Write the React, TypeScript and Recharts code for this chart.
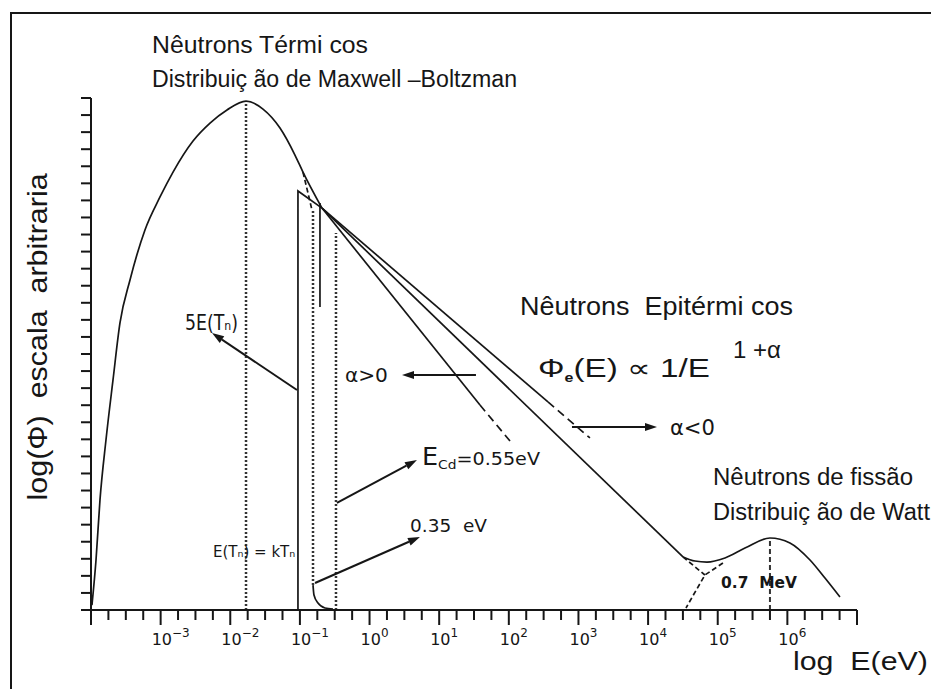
import React from "react";
import { ComposedChart, Line, XAxis, YAxis, ReferenceLine, ReferenceDot } from "recharts";

// x = log10(E/eV), y = log(phi) em escala arbitraria
const maxwellLogE = [-3.986, -3.928, -3.871, -3.785, -3.684, -3.584, -3.44, -3.225, -3.009, -2.822, -2.535, -2.291, -2.047, -1.774, -1.53, -1.286, -1.071, -0.956, -0.683];
const maxwellLogPhi = [0.29, 2.93, 6.45, 9.96, 13.48, 16.82, 19.34, 22.27, 24.2, 25.66, 27.48, 28.53, 29.3, 29.82, 29.35, 28.24, 26.66, 25.66, 23.55];

const maxwellTailLogE = [-0.956, -0.884, -0.827];
const maxwellTailLogPhi = [25.66, 24.43, 23.44];

const epiLogE = [-0.683, 4.501];
const epiLogPhi = [23.55, 3.11];

const fissionLogE = [4.501, 4.673, 4.846, 5.104, 5.391, 5.75, 6.037, 6.325, 6.54, 6.755];
const fissionLogPhi = [3.11, 2.87, 2.81, 3.05, 3.63, 4.22, 3.93, 2.93, 1.87, 0.76];

const alphaPosLogE = [-0.683, 1.586];
const alphaPosLogPhi = [23.55, 12.01];
const alphaPosDashLogE = [1.586, 2.017];
const alphaPosDashLogPhi = [12.01, 9.9];

const alphaNegLogE = [-0.683, 2.562];
const alphaNegLogPhi = [23.55, 12.19];
const alphaNegDashLogE = [2.562, 3.165];
const alphaNegDashLogPhi = [12.19, 10.08];

// degrau em 5E(Tn)
const stepLogE = [-1.028, -1.028, -0.683];
const stepLogPhi = [0, 24.55, 23.55];
const shortBarLogE = [-0.712, -0.712];
const shortBarLogPhi = [17.75, 23.85];

// corte do cadmio
const cdCurveLogE = [-0.812, -0.798, -0.741, -0.64, -0.525];
const cdCurveLogPhi = [1.46, 0.88, 0.41, 0.12, 0.06];
const cdLine1LogE = [-0.812, -0.812];
const cdLine1LogPhi = [1.46, 23.44];
const cdLine2LogE = [-0.482, -0.482];
const cdLine2LogPhi = [0, 22.09];

const peakLineLogE = [-1.774, -1.774];
const peakLineLogPhi = [0, 29.82];
const mevLineLogE = [5.75, 5.75];
const mevLineLogPhi = [0, 4.22];

const joinDashLogE = [4.501, 4.816];
const joinDashLogPhi = [3.11, 2.05];
const fissionDashLogE = [5.075, 4.816, 4.544];
const fissionDashLogPhi = [2.75, 2.05, 0.12];

const xTicks = Array.from({ length: 45 }, (_, i) => -4 + i * 0.25);
const xLabelExps = [-3, -2, -1, 0, 1, 2, 3, 4, 5, 6];
const yTicks = Array.from({ length: 31 }, (_, i) => i);

const INK = "#161616";
const SANS = "'Liberation Sans', Arial, sans-serif";
const PLOT = "'DejaVu Sans', sans-serif";

const zip = (xs: number[], ys: number[]) => xs.map((x, i) => ({ x, y: ys[i] }));

function XTick(props: any) {
  const { x, y, payload } = props;
  const v = payload.value as number;
  const major = Math.abs(v - Math.round(v)) < 1e-6;
  const exp = Math.round(v);
  const show = major && xLabelExps.includes(exp);
  return (
    <g>
      <line x1={x} x2={x} y1={y} y2={y + (major ? 15 : 10)} stroke={INK} strokeWidth={2} />
      {show && (
        <text x={x - 9} y={y + 35} fontSize={16} fontFamily={PLOT} fill={INK}>
          10
          <tspan dy={-8} fontSize={12}>
            {exp < 0 ? `−${-exp}` : `${exp}`}
          </tspan>
        </text>
      )}
    </g>
  );
}

function Arrow(props: any) {
  const { x1, y1, x2, y2 } = props;
  const a = Math.atan2(y2 - y1, x2 - x1);
  const L = 12;
  const W = 4;
  const bx = x2 - L * Math.cos(a);
  const by = y2 - L * Math.sin(a);
  const pts = [
    [x2, y2],
    [bx + W * Math.sin(a), by - W * Math.cos(a)],
    [bx - W * Math.sin(a), by + W * Math.cos(a)],
  ]
    .map((p) => p.join(","))
    .join(" ");
  return (
    <g>
      <line x1={x1} y1={y1} x2={bx} y2={by} stroke={INK} strokeWidth={2} />
      <polygon points={pts} fill={INK} />
    </g>
  );
}

const note =
  (content: React.ReactNode, size: number, opts: { len?: number; font?: string; weight?: number; rotate?: boolean } = {}) =>
  (p: any) => (
    <text
      x={p.cx}
      y={p.cy}
      fontSize={size}
      fontFamily={opts.font ?? SANS}
      fontWeight={opts.weight ?? 400}
      fill={INK}
      textAnchor={opts.rotate ? "middle" : "start"}
      transform={opts.rotate ? `rotate(-90 ${p.cx} ${p.cy})` : undefined}
      textLength={opts.len}
      lengthAdjust={opts.len ? "spacingAndGlyphs" : undefined}
      style={{ whiteSpace: "pre" }}
    >
      {content}
    </text>
  );

const solid = { stroke: INK, strokeWidth: 1.7, dot: false, isAnimationActive: false } as const;

export default function App() {
  return (
    <div style={{ position: "absolute", left: 0, top: 0, width: 931, height: 689, overflow: "hidden", background: "#fff" }}>
      <div
        style={{
          position: "absolute",
          left: 10,
          top: 12,
          width: 1000,
          height: 1000,
          borderLeft: `2px solid ${INK}`,
          borderTop: `2px solid ${INK}`,
        }}
      />
      <div style={{ position: "absolute", left: 0, top: 0 }}>
        <ComposedChart width={931} height={689} margin={{ top: 98, right: 74, bottom: 0, left: 71 }}>
          <XAxis
            type="number"
            dataKey="x"
            domain={[-4, 7]}
            ticks={xTicks}
            interval={0}
            height={79}
            tickSize={0}
            tickMargin={0}
            tickLine={false}
            tick={<XTick />}
            axisLine={{ stroke: INK, strokeWidth: 2 }}
          />
          <YAxis
            type="number"
            dataKey="y"
            domain={[0, 30]}
            ticks={yTicks}
            interval={0}
            width={20}
            tickSize={10}
            tick={() => <g />}
            tickLine={{ stroke: INK, strokeWidth: 2 }}
            axisLine={{ stroke: INK, strokeWidth: 2 }}
          />

          <Line data={zip(peakLineLogE, peakLineLogPhi)} dataKey="y" type="linear" stroke="#333" strokeWidth={2.5} strokeDasharray="2 2" dot={false} isAnimationActive={false} />
          <Line data={zip(cdLine1LogE, cdLine1LogPhi)} dataKey="y" type="linear" stroke="#333" strokeWidth={2.5} strokeDasharray="2 2" dot={false} isAnimationActive={false} />
          <Line data={zip(cdLine2LogE, cdLine2LogPhi)} dataKey="y" type="linear" stroke="#333" strokeWidth={2.5} strokeDasharray="2 2" dot={false} isAnimationActive={false} />
          <Line data={zip(mevLineLogE, mevLineLogPhi)} dataKey="y" type="linear" stroke="#333" strokeWidth={2} strokeDasharray="5 3" dot={false} isAnimationActive={false} />

          <Line data={zip(maxwellLogE, maxwellLogPhi)} dataKey="y" type="monotone" {...solid} />
          <Line data={zip(maxwellTailLogE, maxwellTailLogPhi)} dataKey="y" type="linear" {...solid} strokeDasharray="5 3" />
          <Line data={zip(epiLogE, epiLogPhi)} dataKey="y" type="linear" {...solid} />
          <Line data={zip(fissionLogE, fissionLogPhi)} dataKey="y" type="monotone" {...solid} />
          <Line data={zip(alphaPosLogE, alphaPosLogPhi)} dataKey="y" type="linear" {...solid} />
          <Line data={zip(alphaPosDashLogE, alphaPosDashLogPhi)} dataKey="y" type="linear" {...solid} strokeDasharray="8 5" />
          <Line data={zip(alphaNegLogE, alphaNegLogPhi)} dataKey="y" type="linear" {...solid} />
          <Line data={zip(alphaNegDashLogE, alphaNegDashLogPhi)} dataKey="y" type="linear" {...solid} strokeDasharray="8 5" />
          <Line data={zip(stepLogE, stepLogPhi)} dataKey="y" type="linear" {...solid} />
          <Line data={zip(shortBarLogE, shortBarLogPhi)} dataKey="y" type="linear" {...solid} />
          <Line data={zip(cdCurveLogE, cdCurveLogPhi)} dataKey="y" type="monotone" {...solid} />
          <Line data={zip(joinDashLogE, joinDashLogPhi)} dataKey="y" type="linear" {...solid} strokeDasharray="5 3" />
          <Line data={zip(fissionDashLogE, fissionDashLogPhi)} dataKey="y" type="linear" {...solid} strokeDasharray="5 3" />

          <ReferenceLine segment={[{ x: 2.907, y: 10.72 }, { x: 4.128, y: 10.72 }]} shape={Arrow} />
          <ReferenceLine segment={[{ x: 1.528, y: 13.77 }, { x: 0.466, y: 13.77 }]} shape={Arrow} />
          <ReferenceLine segment={[{ x: -1.042, y: 12.89 }, { x: -2.262, y: 16.23 }]} shape={Arrow} />
          <ReferenceLine segment={[{ x: -0.468, y: 6.27 }, { x: 0.681, y: 8.79 }]} shape={Arrow} />
          <ReferenceLine segment={[{ x: -0.783, y: 1.58 }, { x: 0.724, y: 4.28 }]} shape={Arrow} />

          <ReferenceDot x={-3.124} y={32.64} ifOverflow="visible" shape={note("Nêutrons Térmi cos", 23, { len: 216 })} />
          <ReferenceDot x={-3.124} y={30.64} ifOverflow="visible" shape={note("Distribuiç ão de Maxwell –Boltzman", 23, { len: 365 })} />
          <ReferenceDot x={2.16} y={17.28} ifOverflow="visible" shape={note("Nêutrons  Epitérmi cos", 25, { len: 273 })} />
          <ReferenceDot
            x={2.419}
            y={13.65}
            ifOverflow="visible"
            shape={note(
              <>
                Φ
                <tspan fontSize={12} fontWeight={700} dy={5}>
                  e
                </tspan>
                <tspan dy={-5}>(E) ∝ 1/E</tspan>
              </>,
              25,
              { len: 172 }
            )}
          />
          <ReferenceDot x={5.219} y={14.77} ifOverflow="visible" shape={note("1 +α", 24)} />
          <ReferenceDot x={4.314} y={10.25} ifOverflow="visible" shape={note("α<0", 22, { font: PLOT, len: 45 })} />
          <ReferenceDot x={-0.353} y={13.36} ifOverflow="visible" shape={note("α>0", 20, { font: PLOT, len: 43 })} />
          <ReferenceDot x={-2.65} y={16.41} ifOverflow="visible" shape={note("5E(Tₙ)", 21, { font: PLOT, len: 53 })} />
          <ReferenceDot x={-2.248} y={3.11} ifOverflow="visible" shape={note("E(Tₙ) = kTₙ", 15, { font: PLOT })} />
          <ReferenceDot
            x={0.753}
            y={8.5}
            ifOverflow="visible"
            shape={note(
              <>
                <tspan fontSize={24}>E</tspan>
                <tspan fontSize={13} dy={4}>Cd</tspan>
                <tspan dy={-4}>=0.55eV</tspan>
              </>,
              18,
              { font: PLOT, len: 118 }
            )}
          />
          <ReferenceDot x={0.581} y={4.57} ifOverflow="visible" shape={note("0.35  eV", 18, { font: PLOT, len: 77 })} />
          <ReferenceDot x={4.932} y={7.32} ifOverflow="visible" shape={note("Nêutrons de fissão", 23, { len: 200 })} />
          <ReferenceDot x={4.932} y={5.27} ifOverflow="visible" shape={note("Distribuiç ão de Watt", 23, { len: 217 })} />
          <ReferenceDot x={5.047} y={1.29} ifOverflow="visible" shape={note("0.7  MeV", 15, { font: PLOT, weight: 700, len: 76 })} />
          <ReferenceDot x={6.08} y={-3.52} ifOverflow="visible" shape={note("log  E(eV)", 25, { len: 135 })} />
          <ReferenceDot x={-4.632} y={16.0} ifOverflow="visible" shape={note("log(Φ)  escala  arbitraria", 28, { rotate: true, len: 327 })} />
        </ComposedChart>
      </div>
    </div>
  );
}
